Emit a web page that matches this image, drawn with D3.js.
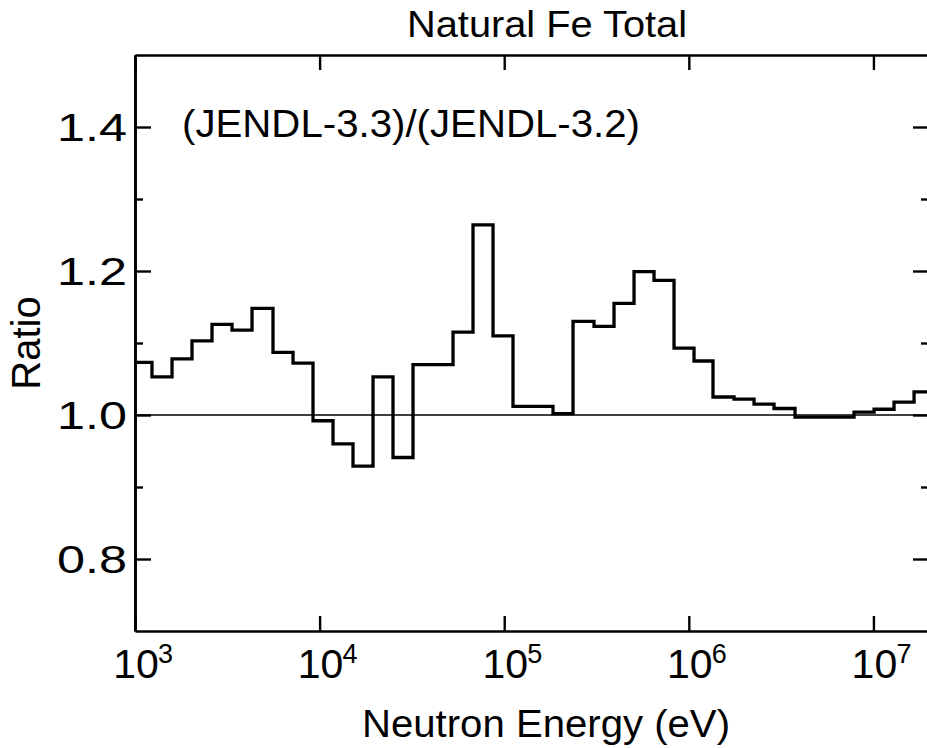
<!DOCTYPE html>
<html>
<head>
<meta charset="utf-8">
<script src="https://cdn.jsdelivr.net/npm/d3@7"></script>
<style>
  html, body { margin: 0; padding: 0; background: #fff; }
  svg { display: block; }
  text { font-family: "Liberation Sans", Arial, Helvetica, sans-serif; fill: #000; }
</style>
</head>
<body>
<svg id="chart" width="927" height="748"></svg>
<script>
// ---- data ----
const title = "Natural Fe Total";
const annotation = "(JENDL-3.3)/(JENDL-3.2)";
const xLabel = "Neutron Energy (eV)";
const yLabel = "Ratio";

// group boundaries (eV)
const binEdges = [1000, 1236, 1587, 2036, 2613, 3354, 4304, 5592, 7178, 9211,
  11820, 15170, 19470, 24980, 32060, 52810, 67770, 86980, 111600, 183800,
  235900, 306500, 393400, 504900, 647900, 831500, 1067000, 1352000, 1758000,
  2256000, 2894000, 3761000, 4828000, 6195000, 7851000, 10080000, 12930000,
  16600000, 20000000];
// ratio per group
const ratios = [1.073, 1.053, 1.078, 1.103, 1.126, 1.118, 1.148, 1.087, 1.072,
  0.992, 0.960, 0.929, 1.053, 0.941, 1.070, 1.115, 1.264, 1.110, 1.012, 1.002,
  1.130, 1.123, 1.155, 1.199, 1.187, 1.093, 1.075, 1.025, 1.022, 1.015, 1.009,
  0.997, 0.997, 0.997, 1.004, 1.008, 1.018, 1.032];

const xTickExps = [3, 4, 5, 6, 7];
const yMajorTicks = [0.8, 1.0, 1.2, 1.4];
const yMinorTicks = [0.9, 1.1, 1.3];
const yTickLabels = ["0.8", "1.0", "1.2", "1.4"];
const referenceValue = 1.0;

// ---- layout ----
const L = 135, R = 929, T = 55, B = 631;
const svg = d3.select("#chart");

const x = d3.scaleLog().domain([1e3, 2e7]).range([L, R]);
const y = d3.scaleLinear().domain([0.7, 1.5]).range([B, T]);

svg.append("defs").append("clipPath").attr("id", "plotclip")
  .append("rect").attr("x", L).attr("y", T).attr("width", R - L).attr("height", B - T);

// reference line
svg.append("line")
  .attr("x1", L).attr("x2", R)
  .attr("y1", y(referenceValue)).attr("y2", y(referenceValue))
  .attr("stroke", "#000").attr("stroke-width", 1.6);

// step data
const pts = ratios.map((v, i) => [binEdges[i], v]);
pts.push([binEdges[binEdges.length - 1], ratios[ratios.length - 1]]);
const stepLine = d3.line()
  .x(d => x(d[0])).y(d => y(d[1]))
  .curve(d3.curveStepAfter);
svg.append("path")
  .attr("clip-path", "url(#plotclip)")
  .attr("d", stepLine(pts))
  .attr("fill", "none").attr("stroke", "#000")
  .attr("stroke-width", 3.3).attr("stroke-linejoin", "miter");

// axes
function styleAxis(g) {
  g.selectAll("path.domain").attr("stroke", "#000").attr("stroke-width", 2.6);
  g.selectAll(".tick line").attr("stroke", "#000").attr("stroke-width", 2.4);
  g.selectAll(".tick text").remove();
}
const xTickVals = xTickExps.map(e => Math.pow(10, e));
svg.append("g").attr("transform", `translate(0,${B})`)
  .call(d3.axisBottom(x).tickValues(xTickVals).tickSize(-15).tickSizeOuter(0).tickFormat(""))
  .call(styleAxis);
svg.append("g").attr("transform", `translate(0,${T})`)
  .call(d3.axisTop(x).tickValues(xTickVals).tickSize(-15).tickSizeOuter(0).tickFormat(""))
  .call(styleAxis);
svg.append("g").attr("transform", `translate(${L},0)`)
  .call(d3.axisLeft(y).tickValues(yMajorTicks).tickSize(-16).tickSizeOuter(0).tickFormat(""))
  .call(styleAxis);
svg.append("g").attr("transform", `translate(${L},0)`)
  .call(d3.axisLeft(y).tickValues(yMinorTicks).tickSize(-8).tickSizeOuter(0).tickFormat(""))
  .call(styleAxis);
svg.append("g").attr("transform", `translate(${R},0)`)
  .call(d3.axisRight(y).tickValues(yMajorTicks).tickSize(-16).tickSizeOuter(0).tickFormat(""))
  .call(styleAxis);
svg.append("g").attr("transform", `translate(${R},0)`)
  .call(d3.axisRight(y).tickValues(yMinorTicks).tickSize(-8).tickSizeOuter(0).tickFormat(""))
  .call(styleAxis);

// y tick labels
svg.append("g").selectAll("text").data(yMajorTicks).join("text")
  .attr("x", 127).attr("y", d => y(d) + 14)
  .attr("text-anchor", "end")
  .attr("font-size", 39)
  .attr("textLength", 70).attr("lengthAdjust", "spacingAndGlyphs")
  .text((d, i) => yTickLabels[i]);

// x tick labels: 10 with superscript exponent
const xl = svg.append("g").selectAll("g").data(xTickExps).join("g");
xl.append("text")
  .attr("x", d => x(Math.pow(10, d)) + 1).attr("y", 678)
  .attr("text-anchor", "middle").attr("font-size", 41)
  .text("10");
xl.append("text")
  .attr("x", d => x(Math.pow(10, d)) + 23).attr("y", 663)
  .attr("text-anchor", "start").attr("font-size", 27)
  .text(d => d);

// title
svg.append("text").attr("x", 407).attr("y", 37)
  .attr("font-size", 37)
  .attr("textLength", 280).attr("lengthAdjust", "spacingAndGlyphs")
  .text(title);

// annotation
svg.append("text").attr("x", 182).attr("y", 137)
  .attr("font-size", 38)
  .attr("textLength", 458).attr("lengthAdjust", "spacingAndGlyphs")
  .text(annotation);

// x label
svg.append("text").attr("x", 362).attr("y", 737)
  .attr("font-size", 38)
  .attr("textLength", 368).attr("lengthAdjust", "spacingAndGlyphs")
  .text(xLabel);

// y label
svg.append("text")
  .attr("transform", "translate(40,343) rotate(-90)")
  .attr("text-anchor", "middle")
  .attr("font-size", 40)
  .text(yLabel);
</script>
</body>
</html>
